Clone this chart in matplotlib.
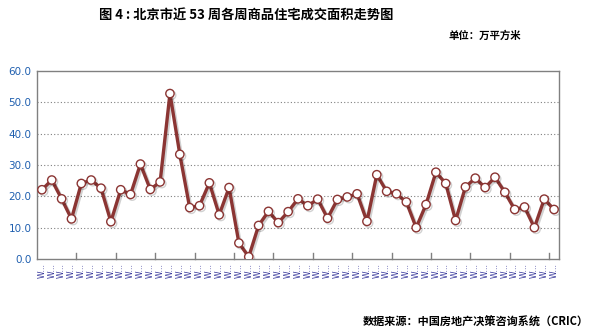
import matplotlib.pyplot as plt
import matplotlib.patheffects as pe
import numpy as np

plt.rcParams['font.family'] = ['Noto Sans CJK SC', 'DejaVu Sans']

# weekly transaction area, 10k m2
area = [22.1, 25.2, 19.2, 12.8, 24.1, 25.2, 22.6, 11.9, 22.1, 20.6,
        30.3, 22.2, 24.6, 52.8, 33.4, 16.4, 17.0, 24.3, 14.1, 22.8,
        5.1, 0.7, 10.7, 15.2, 11.6, 15.1, 19.2, 17.0, 19.1, 13.0,
        19.0, 19.8, 20.8, 12.0, 26.9, 21.6, 20.8, 18.2, 10.0, 17.4,
        27.7, 24.1, 12.3, 23.0, 25.8, 22.8, 26.1, 21.3, 15.8, 16.6,
        10.0, 19.1, 15.8]
week_labels = ['W…'] * len(area)
y_ticks = [0, 10, 20, 30, 40, 50, 60]

fig = plt.figure(figsize=(5.93, 3.34), dpi=100)
ax = fig.add_axes([37 / 593, 75 / 334, 522 / 593, 188 / 334])

x = np.arange(len(area))
ax.plot(x, area, color='#8B3533', lw=2.4, marker='o', ms=6,
        mfc='white', mec='#8B3533', mew=1.0, zorder=3,
        path_effects=[pe.SimpleLineShadow(offset=(1.2, -1.2), alpha=0.18),
                      pe.Normal()])

ax.set_xlim(-0.5, len(area) - 0.5)
ax.set_ylim(0, 60)
ax.set_yticks(y_ticks)
ax.set_yticklabels([f'{v:.1f}' for v in y_ticks], color='#1F5FAF',
                   fontsize=7.5, family='DejaVu Sans')
for v in y_ticks[1:-1]:
    ax.axhline(v, color='#808080', lw=0.8, ls=(0, (1, 2)), zorder=1)

ax.set_xticks(x)
ax.set_xticklabels(week_labels, rotation=90, fontsize=5.5,
                   color='#333399', family='DejaVu Sans')
ax.tick_params(axis='x', length=0, pad=3)
ax.tick_params(axis='y', length=0, pad=4)
# category boundary ticks every 4 weeks, pointing up
for b in np.arange(3.5, len(area), 4):
    ax.plot([b, b], [0, 2], color='#808080', lw=1.0, clip_on=False, zorder=2)

for s in ax.spines.values():
    s.set_color('#808080')
    s.set_linewidth(1.0)

fig.text(246 / 593, 1 - 16 / 334, '图 4 : 北京市近 53 周各周商品住宅成交面积走势图',
         ha='center', va='center', fontsize=9.5, fontweight='bold')
fig.text(521 / 593, 1 - 36 / 334, '单位：万平方米', ha='right', va='center',
         fontsize=7.5, fontweight='bold')
fig.text(589 / 593, 1 - 322 / 334, '数据来源：中国房地产决策咨询系统（CRIC）',
         ha='right', va='center', fontsize=8, fontweight='bold')

fig.savefig('out.png', dpi=100)
